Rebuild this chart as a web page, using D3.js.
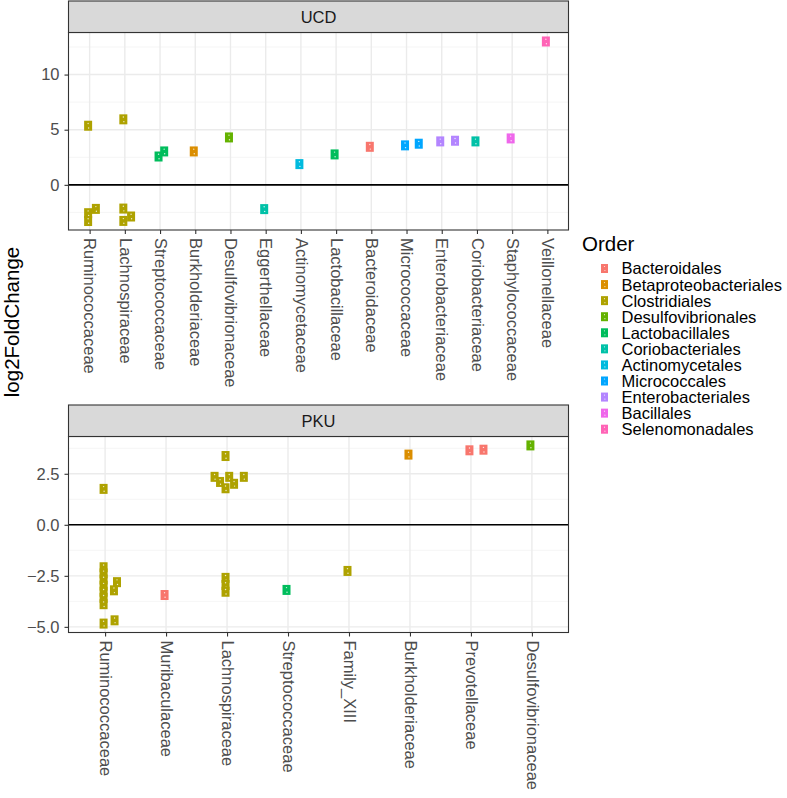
<!DOCTYPE html>
<html><head><meta charset="utf-8">
<script src="https://cdn.jsdelivr.net/npm/d3@7"></script>
<style>
body{margin:0;background:#fff;}
text{font-family:"Liberation Sans",Arial,sans-serif;}
</style></head>
<body><svg id="chart" width="787" height="798"></svg>
<script>
// ---- data ----
const orders = ["Bacteroidales","Betaproteobacteriales","Clostridiales","Desulfovibrionales","Lactobacillales","Coriobacteriales","Actinomycetales","Micrococcales","Enterobacteriales","Bacillales","Selenomonadales"];
const orderColors = ["#F8766D","#DB8E00","#AEA200","#64B200","#00BD5C","#00C1A7","#00BADE","#00A6FF","#B385FF","#EF67EB","#FF63B6"];
const familyOrder = {
  Ruminococcaceae:"Clostridiales", Lachnospiraceae:"Clostridiales", Family_XIII:"Clostridiales",
  Streptococcaceae:"Lactobacillales", Lactobacillaceae:"Lactobacillales",
  Burkholderiaceae:"Betaproteobacteriales", Desulfovibrionaceae:"Desulfovibrionales",
  Eggerthellaceae:"Coriobacteriales", Coriobacteriaceae:"Coriobacteriales",
  Actinomycetaceae:"Actinomycetales", Bacteroidaceae:"Bacteroidales", Muribaculaceae:"Bacteroidales",
  Prevotellaceae:"Bacteroidales", Micrococcaceae:"Micrococcales", Enterobacteriaceae:"Enterobacteriales",
  Staphylococcaceae:"Bacillales", Veillonellaceae:"Selenomonadales"
};
const ucdFamilies = ["Ruminococcaceae","Lachnospiraceae","Streptococcaceae","Burkholderiaceae","Desulfovibrionaceae","Eggerthellaceae","Actinomycetaceae","Lactobacillaceae","Bacteroidaceae","Micrococcaceae","Enterobacteriaceae","Coriobacteriaceae","Staphylococcaceae","Veillonellaceae"];
const ucdPointFamily = ["Ruminococcaceae","Ruminococcaceae","Ruminococcaceae","Ruminococcaceae",
  "Lachnospiraceae","Lachnospiraceae","Lachnospiraceae","Lachnospiraceae",
  "Streptococcaceae","Streptococcaceae","Burkholderiaceae","Desulfovibrionaceae","Eggerthellaceae",
  "Actinomycetaceae","Lactobacillaceae","Bacteroidaceae","Micrococcaceae","Micrococcaceae",
  "Enterobacteriaceae","Enterobacteriaceae","Coriobacteriaceae","Staphylococcaceae","Veillonellaceae"];
const ucdValues = [5.36,-2.57,-3.28,-2.18, 5.94,-2.15,-3.27,-2.87, 2.57,3.03,3.03,4.30,-2.20, 1.88,2.76,3.45,3.58,3.73, 3.94,4.00,3.94,4.21,13.0];
const ucdJitter = [0,0,0,0.22, 0,0,0,0.22, 0,0.16,0,0,0, 0,0,0,0,0.39, 0,0.42,0,0,0];

const pkuFamilies = ["Ruminococcaceae","Muribaculaceae","Lachnospiraceae","Streptococcaceae","Family_XIII","Burkholderiaceae","Prevotellaceae","Desulfovibrionaceae"];
const pkuPointFamily = ["Ruminococcaceae","Ruminococcaceae","Ruminococcaceae","Ruminococcaceae","Ruminococcaceae","Ruminococcaceae","Ruminococcaceae","Ruminococcaceae","Ruminococcaceae","Ruminococcaceae","Ruminococcaceae","Ruminococcaceae",
  "Muribaculaceae",
  "Lachnospiraceae","Lachnospiraceae","Lachnospiraceae","Lachnospiraceae","Lachnospiraceae","Lachnospiraceae","Lachnospiraceae","Lachnospiraceae","Lachnospiraceae","Lachnospiraceae",
  "Streptococcaceae","Family_XIII","Burkholderiaceae","Prevotellaceae","Prevotellaceae","Desulfovibrionaceae"];
const pkuValues = [1.76,-2.08,-2.38,-2.68,-2.98,-3.28,-3.58,-3.89,-2.81,-3.21,-4.84,-4.68,
  -3.44,
  3.37,2.35,2.10,1.79,2.35,2.01,2.35,-2.60,-2.95,-3.28,
  -3.19,-2.26,3.44,3.65,3.68,3.89];
const pkuJitter = [0,0,0,0,0,0,0,0,0.22,0.17,0,0.18,
  0,
  0,-0.18,-0.09,0,0.06,0.14,0.30,0,0,0,
  0,0,0,0,0.23,0];

const ucdTicks = [0,5,10];
const pkuTicks = [-5,-2.5,0,2.5];

// ---- layout ----
const svg = d3.select("#chart");
const color = d3.scaleOrdinal(orders, orderColors);
const panelX0 = 68.5, panelX1 = 568.5;
const textGrey = "#4D4D4D";

function panel(cfg){
  const g = svg.append("g");
  const {title, families, pf, vals, jit, ticks, top, bottom, fmt} = cfg;
  const stripTop = top, stripH = 31.5;
  const pTop = top + stripH, pBot = bottom;
  const x = d3.scalePoint(families, [panelX0, panelX1]).padding(0.6);
  const step = x.step();
  const lo = d3.min(vals), hi = d3.max(vals), pad = (hi - lo) * 0.05;
  const y = d3.scaleLinear([lo - pad, hi + pad], [pBot, pTop]);

  // background
  g.append("rect").attr("x", panelX0).attr("y", pTop).attr("width", panelX1 - panelX0).attr("height", pBot - pTop).attr("fill", "#fff");
  // minor grid
  const minor = [];
  for (let i = 0; i < ticks.length - 1; i++) minor.push((ticks[i] + ticks[i+1]) / 2);
  const dt = ticks[1] - ticks[0];
  minor.push(ticks[0] - dt/2, ticks[ticks.length-1] + dt/2);
  g.selectAll(".minor").data(minor.filter(v => y(v) >= pTop && y(v) <= pBot)).join("line")
    .attr("x1", panelX0).attr("x2", panelX1).attr("y1", d => y(d)).attr("y2", d => y(d))
    .attr("stroke", "#F2F2F2").attr("stroke-width", 0.8);
  // major grid
  g.selectAll(".majy").data(ticks).join("line")
    .attr("x1", panelX0).attr("x2", panelX1).attr("y1", d => y(d)).attr("y2", d => y(d))
    .attr("stroke", "#EBEBEB").attr("stroke-width", 1.4);
  g.selectAll(".majx").data(families).join("line")
    .attr("x1", d => x(d)).attr("x2", d => x(d)).attr("y1", pTop).attr("y2", pBot)
    .attr("stroke", "#EBEBEB").attr("stroke-width", 1.4);
  // zero line
  g.append("line").attr("x1", panelX0).attr("x2", panelX1).attr("y1", y(0)).attr("y2", y(0))
    .attr("stroke", "#000").attr("stroke-width", 1.6);

  // points
  const pts = vals.map((v, i) => ({f: pf[i], v, j: jit[i]}));
  const pg = g.selectAll(".pt").data(pts).join("g")
    .attr("transform", d => `translate(${x(d.f) + d.j * step - 1.5},${y(d.v)})`);
  pg.append("rect").attr("x", -4).attr("y", -5).attr("width", 8).attr("height", 10)
    .attr("fill", d => color(familyOrder[d.f]));
  pg.append("circle").attr("cx", 0).attr("cy", -2.3).attr("r", 0.7).attr("fill", "#fff").attr("opacity", 0.8);
  pg.append("circle").attr("cx", 0.5).attr("cy", 2.3).attr("r", 0.7).attr("fill", "#fff").attr("opacity", 0.8);

  // panel border
  g.append("rect").attr("x", panelX0).attr("y", pTop).attr("width", panelX1 - panelX0).attr("height", pBot - pTop)
    .attr("fill", "none").attr("stroke", "#333333").attr("stroke-width", 1.1);
  // strip
  g.append("rect").attr("x", panelX0).attr("y", stripTop).attr("width", panelX1 - panelX0).attr("height", stripH)
    .attr("fill", "#D9D9D9").attr("stroke", "#333333").attr("stroke-width", 1.1);
  g.append("text").attr("x", (panelX0 + panelX1) / 2).attr("y", stripTop + stripH / 2).attr("dy", "0.36em")
    .attr("text-anchor", "middle").attr("font-size", 16.5).attr("fill", "#1A1A1A").text(title);

  // y axis
  const ya = g.append("g").attr("transform", `translate(${panelX0},0)`)
    .call(d3.axisLeft(y).tickValues(ticks).tickSize(4).tickPadding(5).tickFormat(fmt));
  ya.select(".domain").remove();
  ya.selectAll(".tick line").attr("stroke", "#333333").attr("stroke-width", 1.1);
  ya.selectAll(".tick text").attr("font-size", 16.5).attr("fill", textGrey).attr("font-family", '"Liberation Sans",Arial,sans-serif');

  // x axis
  const xa = g.append("g").attr("transform", `translate(0,${pBot})`)
    .call(d3.axisBottom(x).tickSize(4).tickPadding(0));
  xa.select(".domain").remove();
  xa.selectAll(".tick line").attr("stroke", "#333333").attr("stroke-width", 1.1);
  xa.selectAll(".tick text").attr("font-size", 16.5).attr("fill", textGrey)
    .attr("font-family", '"Liberation Sans",Arial,sans-serif')
    .attr("transform", "rotate(90)").attr("text-anchor", "start")
    .attr("x", 8).attr("y", 0).attr("dy", "0.35em");
}

panel({title: "UCD", families: ucdFamilies, pf: ucdPointFamily, vals: ucdValues, jit: ucdJitter,
  ticks: ucdTicks, top: 1, bottom: 230, fmt: d3.format("d")});
panel({title: "PKU", families: pkuFamilies, pf: pkuPointFamily, vals: pkuValues, jit: pkuJitter,
  ticks: pkuTicks, top: 405, bottom: 632.5, fmt: d => d3.format(".1f")(d).replace("-", "\u2212")});

// y title
svg.append("text").attr("transform", "translate(19,322) rotate(-90)").attr("text-anchor", "middle")
  .attr("font-size", 20.5).attr("fill", "#000").text("log2FoldChange");

// legend
const lg = svg.append("g");
lg.append("text").attr("x", 582).attr("y", 251).attr("font-size", 20.5).attr("fill", "#000").text("Order");
const li = lg.selectAll(".li").data(orders).join("g")
  .attr("transform", (d, i) => `translate(604.5,${268.5 + i * 16.07})`);
li.append("rect").attr("x", -3.5).attr("y", -4.5).attr("width", 7).attr("height", 9).attr("fill", d => color(d));
li.append("circle").attr("cx", 0).attr("cy", -2).attr("r", 0.6).attr("fill", "#fff").attr("opacity", 0.8);
li.append("circle").attr("cx", 0.4).attr("cy", 2).attr("r", 0.6).attr("fill", "#fff").attr("opacity", 0.8);
li.append("text").attr("x", 17).attr("y", 0).attr("dy", "0.36em").attr("font-size", 16.5).attr("fill", "#000").text(d => d);
</script></body></html>
